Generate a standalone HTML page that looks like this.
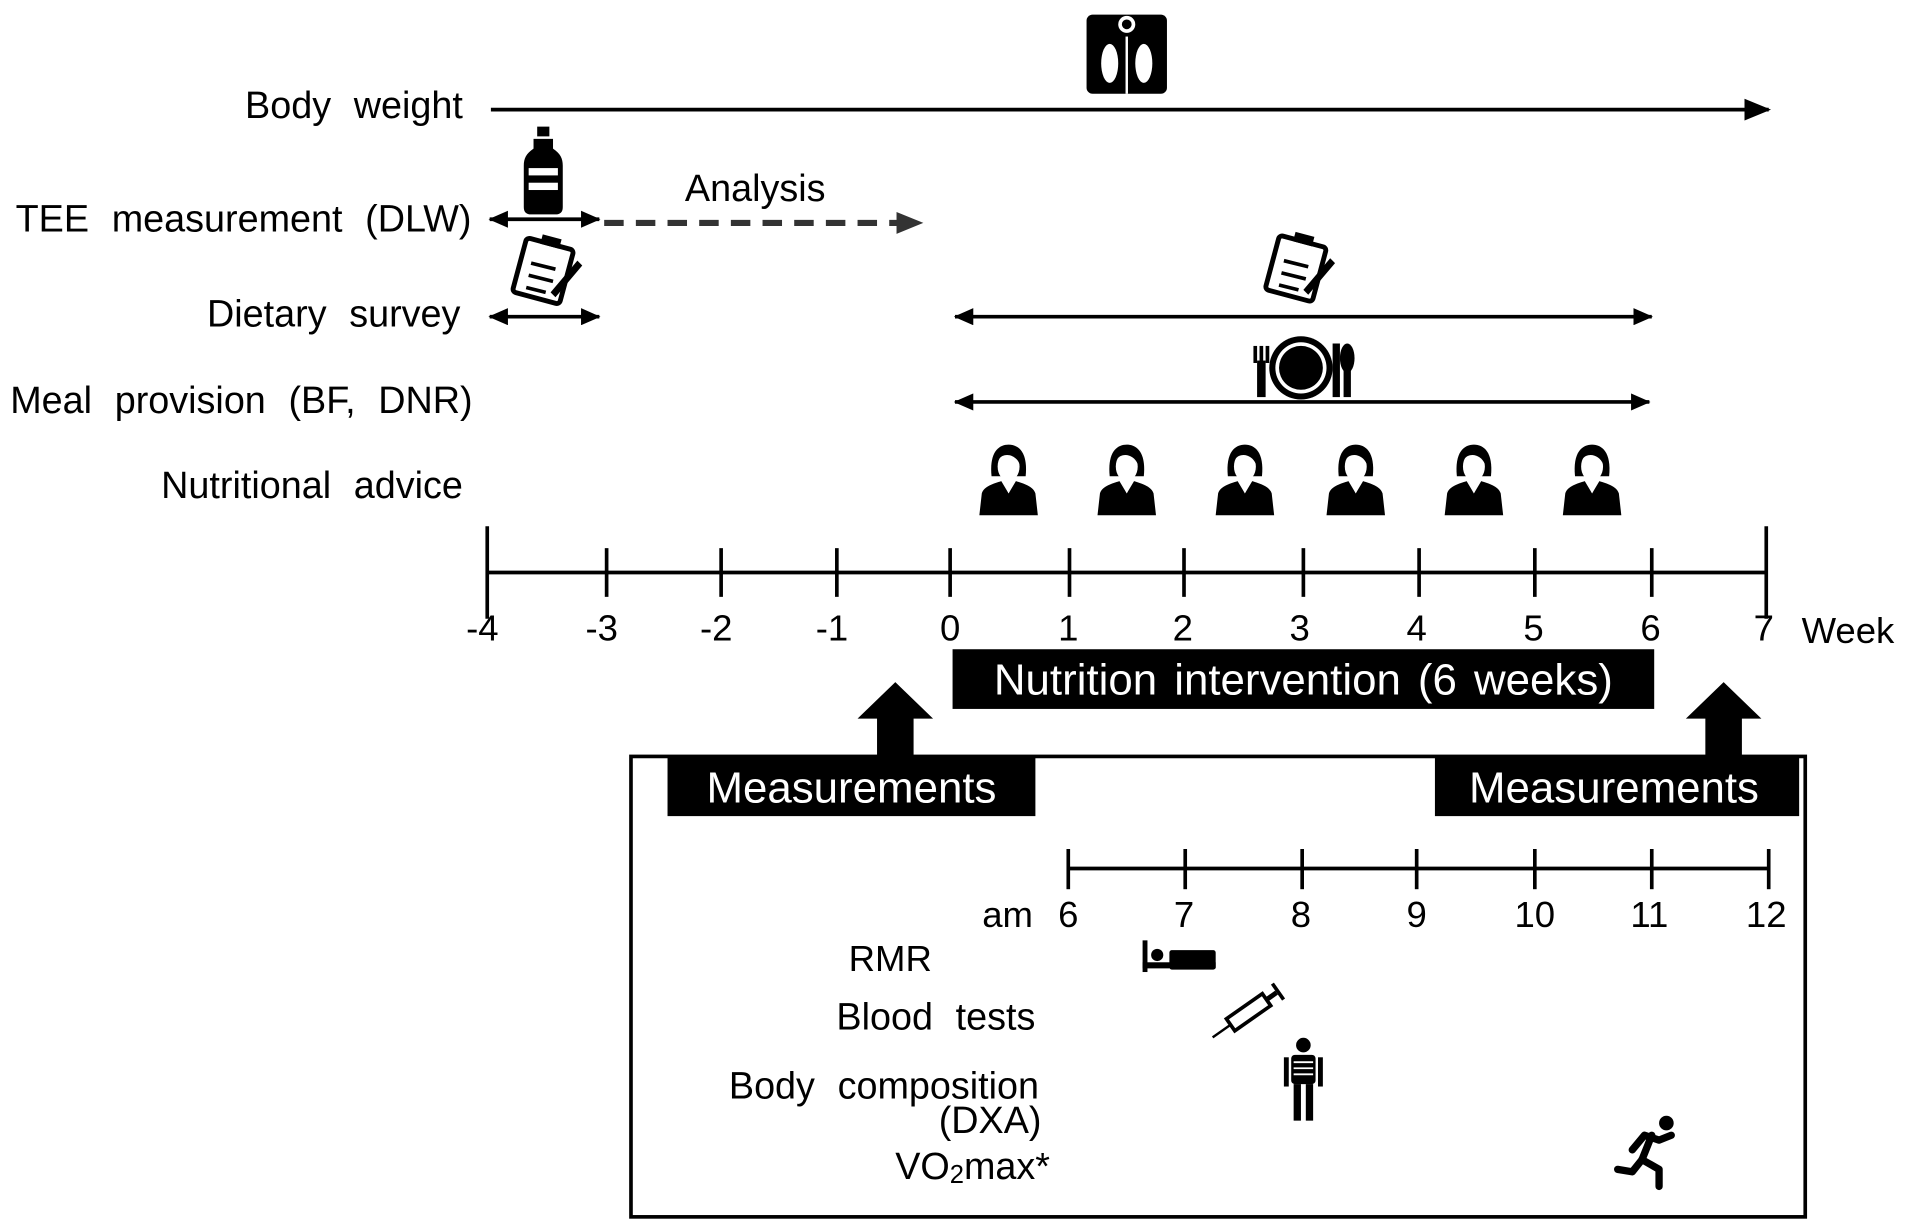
<!DOCTYPE html>
<html><head><meta charset="utf-8"><style>
html,body{margin:0;padding:0;background:#fff;}
svg{display:block;}
text{font-family:"Liberation Sans",sans-serif;fill:#000;}
.lb{font-size:31px;word-spacing:10px;}
</style></head><body>
<svg width="1910" height="1226" viewBox="0 0 1568 1006.5" preserveAspectRatio="none" xmlns="http://www.w3.org/2000/svg">
<defs>
<marker id="ah" markerWidth="16" markerHeight="14" refX="15" refY="7" orient="auto-start-reverse" markerUnits="userSpaceOnUse"><path d="M0,0 L16,7 L0,14 Z" fill="#000"/></marker>
<marker id="ah2" markerWidth="22" markerHeight="18" refX="20" refY="9" orient="auto-start-reverse" markerUnits="userSpaceOnUse"><path d="M0,0 L22,9 L0,18 Z" fill="#000"/></marker>
<g id="person">
<path d="M-14,-4 C-16,-24 -8,-30 0,-30 C8,-30 16,-24 14,-4 Z" fill="#000"/>
<ellipse cx="0" cy="-12" rx="9" ry="12" fill="#fff"/>
<path d="M-8,-18 C-4,-24 6,-22 9,-14 L9,-20 C4,-26 -6,-26 -9,-18 Z" fill="#000"/>
<path d="M-24,28 L-22,10 C-20,4 -12,2 -6,0 L0,10 L6,0 C12,2 20,4 22,10 L24,28 Z" fill="#000"/>
<path d="M-4,2 L0,10 L4,2 Z" fill="#fff"/>
</g>
<g id="clip">
<rect x="-22" y="-22" width="40" height="46" rx="3" fill="#fff" stroke="#000" stroke-width="4" transform="rotate(15)"/>
<rect x="-10" y="-28" width="16" height="8" fill="#000" transform="rotate(15)"/>
<path d="M-12,-6 L8,-1 M-14,4 L6,9 M-16,14 L0,18" stroke="#000" stroke-width="3"/>
<path d="M4,18 L26,-8 L30,-4 L8,22 Z" fill="#000"/>
</g>
</defs>

<rect x="892" y="12" width="66" height="65" rx="5" fill="#000"/>
<circle cx="925" cy="20" r="7" fill="#fff"/><circle cx="925" cy="20" r="4" fill="#000"/>
<ellipse cx="911" cy="52" rx="7" ry="16" fill="#fff"/><ellipse cx="939" cy="52" rx="7" ry="16" fill="#fff"/>
<line x1="925" y1="30" x2="925" y2="77" stroke="#fff" stroke-width="2"/>

<text x="380" y="97" class="lb" text-anchor="end">Body weight</text>
<line x1="403" y1="90" x2="1452" y2="90" stroke="#000" stroke-width="3" marker-end="url(#ah2)"/>

<path d="M441,104 h10 v8 h-10 z M438,114 h16 v8 c6,4 8,8 8,14 v34 c0,4 -2,6 -6,6 h-20 c-4,0 -6,-2 -6,-6 v-34 c0,-6 2,-10 8,-14 z" fill="#000"/>
<rect x="434" y="138" width="24" height="6" fill="#fff"/><rect x="434" y="150" width="24" height="6" fill="#fff"/>

<text x="387" y="190" class="lb" text-anchor="end">TEE measurement (DLW)</text>
<text x="620" y="165" class="lb" text-anchor="middle">Analysis</text>
<line x1="402" y1="180" x2="492" y2="180" stroke="#000" stroke-width="3" marker-start="url(#ah)" marker-end="url(#ah)"/>
<line x1="496" y1="183" x2="740" y2="183" stroke="#333" stroke-width="5" stroke-dasharray="16,10"/>
<path d="M736,174 L758,183 L736,192 Z" fill="#333"/>

<use href="#clip" x="448" y="222"/>
<text x="378" y="268" class="lb" text-anchor="end">Dietary survey</text>
<line x1="402" y1="260" x2="492" y2="260" stroke="#000" stroke-width="3" marker-start="url(#ah)" marker-end="url(#ah)"/>
<use href="#clip" x="1066" y="220"/>
<line x1="784" y1="260" x2="1356" y2="260" stroke="#000" stroke-width="3" marker-start="url(#ah)" marker-end="url(#ah)"/>

<circle cx="1068" cy="302" r="26" fill="#000"/><circle cx="1068" cy="302" r="21" fill="#fff"/><circle cx="1068" cy="302" r="18" fill="#000"/>
<rect x="1029" y="284" width="3" height="14" fill="#000"/><rect x="1034" y="284" width="3" height="14" fill="#000"/><rect x="1039" y="284" width="3" height="14" fill="#000"/>
<rect x="1032" y="296" width="7" height="30" fill="#000"/>
<ellipse cx="1106" cy="294" rx="6" ry="12" fill="#000"/><rect x="1103" y="300" width="6" height="26" fill="#000"/>
<rect x="1094" y="282" width="6" height="44" fill="#000"/>
<text x="388" y="339" class="lb" text-anchor="end">Meal provision (BF, DNR)</text>
<line x1="784" y1="330" x2="1354" y2="330" stroke="#000" stroke-width="3" marker-start="url(#ah)" marker-end="url(#ah)"/>

<text x="380" y="409" class="lb" text-anchor="end">Nutritional advice</text>
<use href="#person" x="828" y="395"/><use href="#person" x="925" y="395"/><use href="#person" x="1022" y="395"/>
<use href="#person" x="1113" y="395"/><use href="#person" x="1210" y="395"/><use href="#person" x="1307" y="395"/>

<g stroke="#000" stroke-width="3">
<line x1="400" y1="470" x2="1450" y2="470"/>
<line x1="400" y1="432" x2="400" y2="508"/><line x1="1450" y1="432" x2="1450" y2="508"/>
<line x1="498" y1="450" x2="498" y2="490"/><line x1="592" y1="450" x2="592" y2="490"/><line x1="687" y1="450" x2="687" y2="490"/>
<line x1="780" y1="450" x2="780" y2="490"/><line x1="878" y1="450" x2="878" y2="490"/><line x1="972" y1="450" x2="972" y2="490"/>
<line x1="1070" y1="450" x2="1070" y2="490"/><line x1="1165" y1="450" x2="1165" y2="490"/><line x1="1260" y1="450" x2="1260" y2="490"/>
<line x1="1356" y1="450" x2="1356" y2="490"/>
</g>
<g font-size="30" text-anchor="middle">
<text x="396" y="526">-4</text><text x="494" y="526">-3</text><text x="588" y="526">-2</text><text x="683" y="526">-1</text>
<text x="780" y="526">0</text><text x="877" y="526">1</text><text x="971" y="526">2</text><text x="1067" y="526">3</text>
<text x="1163" y="526">4</text><text x="1259" y="526">5</text><text x="1355" y="526">6</text><text x="1448" y="526">7</text>
</g>
<text x="1479" y="528" font-size="30">Week</text>

<rect x="782" y="533" width="576" height="49" fill="#000"/>
<text x="1070" y="570" font-size="36" word-spacing="4" text-anchor="middle" style="fill:#fff">Nutrition intervention (6 weeks)</text>

<path d="M720,622 V590 H704 L735,560 L766,590 H750 V622 Z" fill="#000"/>
<path d="M1400,622 V590 H1384 L1415,560 L1446,590 H1430 V622 Z" fill="#000"/>

<rect x="518" y="621" width="964" height="378" fill="none" stroke="#000" stroke-width="3"/>
<rect x="548" y="622" width="302" height="48" fill="#000"/>
<text x="699" y="659" font-size="36" text-anchor="middle" style="fill:#fff">Measurements</text>
<rect x="1178" y="622" width="299" height="48" fill="#000"/>
<text x="1325" y="659" font-size="36" text-anchor="middle" style="fill:#fff">Measurements</text>

<g stroke="#000" stroke-width="3">
<line x1="877" y1="713" x2="1452" y2="713"/>
<line x1="877" y1="697" x2="877" y2="730"/><line x1="973" y1="697" x2="973" y2="730"/><line x1="1069" y1="697" x2="1069" y2="730"/>
<line x1="1163" y1="697" x2="1163" y2="730"/><line x1="1260" y1="697" x2="1260" y2="730"/><line x1="1356" y1="697" x2="1356" y2="730"/>
<line x1="1452" y1="697" x2="1452" y2="730"/>
</g>
<g font-size="30" text-anchor="middle">
<text x="877" y="761">6</text><text x="972" y="761">7</text><text x="1068" y="761">8</text><text x="1163" y="761">9</text>
<text x="1260" y="761">10</text><text x="1354" y="761">11</text><text x="1450" y="761">12</text>
</g>
<text x="848" y="761" font-size="30" text-anchor="end">am</text>

<text x="765" y="797" font-size="30" text-anchor="end">RMR</text>
<text x="850" y="845" class="lb" text-anchor="end">Blood tests</text>
<text x="853" y="902" class="lb" text-anchor="end">Body composition</text>
<text x="855" y="930" font-size="31" text-anchor="end">(DXA)</text>
<text x="862" y="968" font-size="31" text-anchor="end">VO<tspan font-size="21" dy="3">2</tspan><tspan dy="-3">max*</tspan></text>

<rect x="938" y="772" width="4" height="26" fill="#000"/><rect x="938" y="790" width="60" height="5" fill="#000"/>
<rect x="960" y="780" width="38" height="16" rx="2" fill="#000"/><circle cx="950" cy="784" r="5" fill="#000"/>
<g transform="translate(1025,831) rotate(-35)">
<rect x="-18" y="-6" width="36" height="12" fill="#fff" stroke="#000" stroke-width="3"/>
<line x1="-18" y1="0" x2="-36" y2="0" stroke="#000" stroke-width="2"/>
<rect x="18" y="-2" width="10" height="4" fill="#000"/><rect x="28" y="-8" width="3" height="16" fill="#000"/>
</g>
<g fill="#000"><circle cx="1070" cy="858" r="6"/><rect x="1060" y="866" width="20" height="24" rx="3"/>
<rect x="1054" y="868" width="4" height="24"/><rect x="1082" y="868" width="4" height="24"/>
<rect x="1062" y="890" width="6" height="30"/><rect x="1072" y="890" width="6" height="30"/></g>
<g stroke="#fff" stroke-width="1.5"><line x1="1062" y1="872" x2="1078" y2="872"/><line x1="1062" y1="877" x2="1078" y2="877"/><line x1="1062" y1="882" x2="1078" y2="882"/></g>
<g fill="none" stroke="#000" stroke-width="6" stroke-linecap="round" stroke-linejoin="round">
<path d="M1356,932 L1348,952"/><path d="M1348,952 L1362,960 L1362,974"/><path d="M1348,952 L1340,962 L1328,960"/>
<path d="M1340,944 L1350,932 L1362,936 L1372,932"/></g>
<circle cx="1368" cy="922" r="6" fill="#000"/>
</svg>
</body></html>
